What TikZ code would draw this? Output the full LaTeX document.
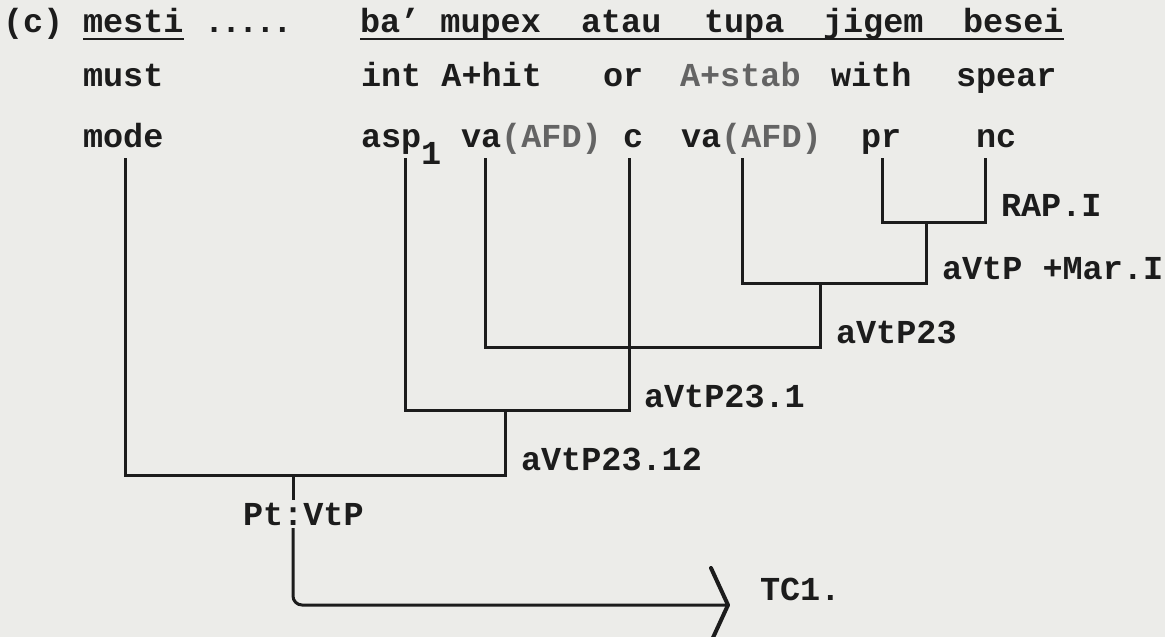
\documentclass[tikz,border=0pt]{standalone}
\usepackage{fontspec}
\newfontfamily\tw{Liberation Mono}
\definecolor{paper}{RGB}{236,236,233}
\definecolor{ink}{RGB}{28,28,28}
\definecolor{faded}{RGB}{100,100,100}
\begin{document}
\begin{tikzpicture}[x=1pt,y=-1pt,
  txt/.style={anchor=base west, inner sep=0pt, outer sep=0pt, text=ink, font=\tw\bfseries\fontsize{33.5}{40}\selectfont},
  ln/.style={draw=ink, line width=3pt},
  ul/.style={draw=ink, line width=2.6pt},
  tipline/.style={draw=ink, line width=4pt, line cap=round, line join=round},
]
\fill[paper] (0,0) rectangle (1165,637);
\useasboundingbox (0,0) rectangle (1165,637);

% row 1
\node[txt] (c)      at (3,32)   {(c)};
\node[txt] (mesti)  at (83,32)  {mesti};
\node[txt] (dots)   at (204,32) {.\hspace{-3pt}.\hspace{-3pt}.\hspace{-3pt}.\hspace{-3pt}.};
\node[txt] (bamup)  at (360,32) {ba’ mupex};
\node[txt] (atau)   at (581,32) {atau};
\node[txt] (tupa)   at (704,32) {tupa};
\node[txt] (jigem)  at (823,32) {jigem};
\node[txt] (besei)  at (963,32) {besei};
\draw[ul] ([yshift=-7pt]mesti.base west) -- ([yshift=-7pt]mesti.base east);
\draw[ul] ([yshift=-7pt]bamup.base west) -- ([yshift=-7pt]besei.base east);

% row 2
\node[txt] (must)   at (83,86)  {must};
\node[txt] (inthit) at (361,86) {int A+hit};
\node[txt] (or)     at (603,86) {or};
\node[txt] (stab)   at (680,86) {\textcolor{faded}{A+stab}};
\node[txt] (with)   at (831,86) {with};
\node[txt] (spear)  at (956,86) {spear};

% row 3
\node[txt] (mode)   at (83,147)  {mode};
\node[txt] (asp)    at (361,147) {asp};
\node[txt] (aspsub) at (421,164) {1};
\node[txt] (vaA)    at (461,147) {va\textcolor{faded}{(AFD)}};
\node[txt] (conj)   at (623,147) {c};
\node[txt] (vaB)    at (681,147) {va\textcolor{faded}{(AFD)}};
\node[txt] (pr)     at (861,147) {pr};
\node[txt] (nc)     at (976,147) {nc};

% tops of the stems
\coordinate (tmode) at (125,158);
\coordinate (tasp)  at (405,158);
\coordinate (tvaA)  at (485,158);
\coordinate (tc)    at (629,158);
\coordinate (tvaB)  at (742,158);
\coordinate (tpr)   at (882,158);
\coordinate (tnc)   at (985,158);

% junctions
\coordinate (jRAP)  at (926,222);
\coordinate (jMar)  at (820,283);
\coordinate (j23)   at (629,347);
\coordinate (j231)  at (505,410);
\coordinate (j2312) at (293,475);
\coordinate (tip)   at (728,605);

\draw[ln] (tpr) |- (jRAP) -| (tnc);
\draw[ln] (jRAP) |- (jMar) -| (tvaB);
\draw[ln] (jMar) |- (j23) -| (tvaA);
\draw[ln] (tc) |- (j231) -| (tasp);
\draw[ln] (j231) |- (j2312) -| (tmode);

% labels
\node[txt] (rap)   at (1001,216) {RAP.I};
\node[txt] (mar)   at (942,279)  {aVtP +Mar.I};
\node[txt] (l23)   at (836,343)  {aVtP23};
\node[txt] (l231)  at (644,407)  {aVtP23.1};
\node[txt] (l2312) at (521,470)  {aVtP23.12};
\node[txt] (pt)    at (243,525)  {Pt:VtP};
\node[txt] (tc1)   at (760,600)  {TC1.};

\draw[ln] (j2312) -- ([yshift=3pt]pt.north -| j2312);
\draw[ln, rounded corners=9pt] ([yshift=-3pt]pt.south -| j2312) |- (tip);
\draw[tipline] ([shift={(-17pt,37pt)}]tip) -- (tip) -- ([shift={(-17pt,-37pt)}]tip);
\end{tikzpicture}
\end{document}
